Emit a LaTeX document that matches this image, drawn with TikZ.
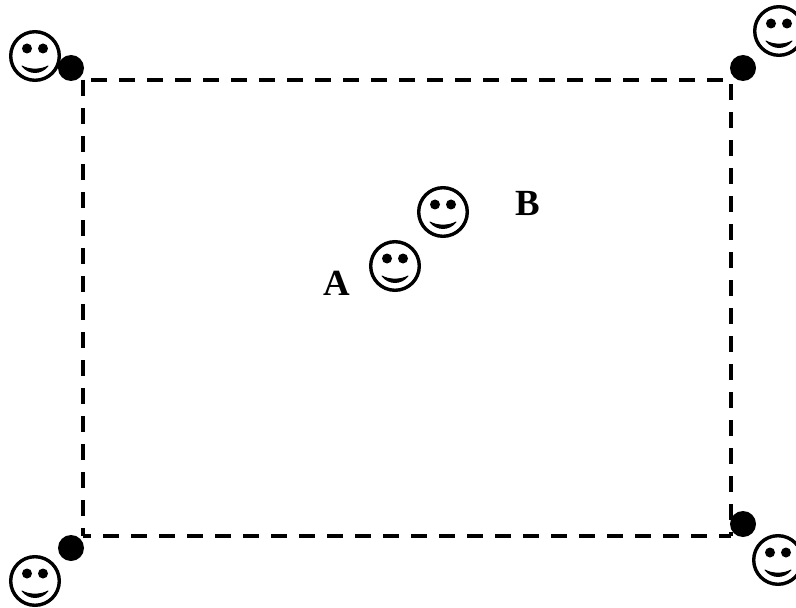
\documentclass[tikz,border=0pt]{standalone}
\usepackage{fontspec}
\setmainfont{Liberation Serif}
\tikzset{
  x=1bp,y=-1bp,
  smileface/.pic={
    \node[circle,draw=black,line width=3.4bp,minimum size=48.6bp,inner sep=0pt] (-face) at (0,0) {};
    \node[circle,fill=black,minimum size=10bp,inner sep=0pt] (-eyel) at (-8,-7.5) {};
    \node[circle,fill=black,minimum size=10bp,inner sep=0pt] (-eyer) at (8,-7.5) {};
    \fill[draw=black,line width=1bp,line join=round] (-13,10) .. controls (-6,14.2) and (6,14.2) .. (13,10)
      .. controls (6,18.6) and (-6,18.6) .. cycle;
  },
  cornerdot/.style={circle,fill=black,minimum size=26bp,inner sep=0pt},
  edgeline/.style={line width=4bp,line cap=butt,dash pattern=on 16bp off 12bp},
  biglabel/.style={font=\bfseries\fontsize{37}{37}\selectfont,inner sep=0pt},
}
\begin{document}
\begin{tikzpicture}
\useasboundingbox (0,0) rectangle (796,608);
\clip (0,0) rectangle (796,608);
\coordinate (tl) at (83,80);
\coordinate (tr) at (731,80);
\coordinate (br) at (731,536);
\coordinate (bl) at (83,536);
\draw[edgeline,dash phase=20bp] (tl) -- (tr);
\draw[edgeline,dash phase=0bp] (tl) -- (bl);
\draw[edgeline,dash phase=24bp] (tr) -- (br);
\draw[edgeline,dash phase=8bp] (bl) -- (br);
\node[cornerdot] (dtl) at (71,68) {};
\node[cornerdot] (dtr) at (743,68) {};
\node[cornerdot] (dbl) at (71,548) {};
\node[cornerdot] (dbr) at (743,524) {};
\pic (s1) at (35,56) {smileface};
\pic (s2) at (779,31) {smileface};
\pic (s3) at (35,581) {smileface};
\pic (s4) at (778,560) {smileface};
\pic (s5) at (443,212) {smileface};
\pic (s6) at (395,266) {smileface};
\node[biglabel] (a) at (337,283.5) {A};
\node[biglabel] (b) at (528,203) {B};
\end{tikzpicture}
\end{document}
